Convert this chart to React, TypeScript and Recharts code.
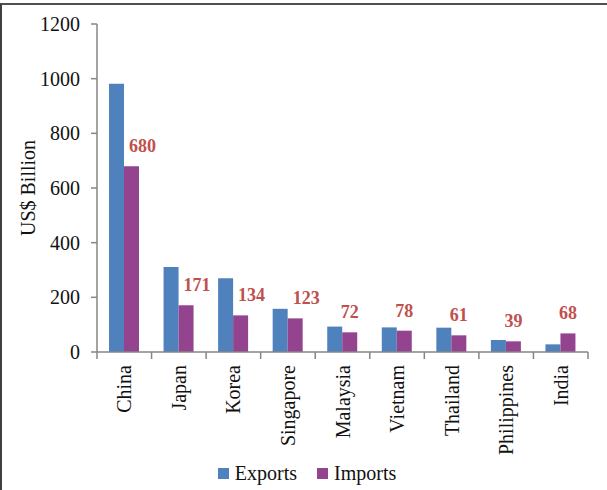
import React from 'react';
import { BarChart, Bar, XAxis, YAxis, Legend, LabelList } from 'recharts';

const categories = ['China', 'Japan', 'Korea', 'Singapore', 'Malaysia', 'Vietnam', 'Thailand', 'Philippines', 'India'];
const exportsValues = [981, 311, 270, 158, 93, 90, 89, 44, 28];
const importsValues = [680, 171, 134, 123, 72, 78, 61, 39, 68];
const yTicks = [0, 200, 400, 600, 800, 1000, 1200];

const data = categories.map((c, i) => ({ name: c, Exports: exportsValues[i], Imports: importsValues[i] }));

const W = 607;
const H = 490;
const MARGIN = { top: 24, right: 19, left: 0, bottom: 2 };
const Y_AXIS_W = 97;
const PLOT_W = W - MARGIN.left - MARGIN.right - Y_AXIS_W;
const STEP = PLOT_W / categories.length;
const FONT = '"Liberation Serif", "Times New Roman", serif';
const AXIS_GRAY = '#868686';

const XTick = (props: any) => {
  const { x, y, payload, index } = props;
  const left = x - STEP / 2;
  const right = x + STEP / 2;
  return (
    <g>
      <line x1={left} y1={y} x2={left} y2={y + 7} stroke={AXIS_GRAY} strokeWidth={1.5} />
      {index === categories.length - 1 && (
        <line x1={right} y1={y} x2={right} y2={y + 7} stroke={AXIS_GRAY} strokeWidth={1.5} />
      )}
      <text
        x={0}
        y={0}
        transform={`translate(${x},${y + 13}) rotate(-90)`}
        textAnchor="end"
        dominantBaseline="central"
        fontFamily={FONT}
        fontSize={20}
        fill="#111"
      >
        {payload.value}
      </text>
    </g>
  );
};

const ImportLabel = (props: any) => {
  const { x, y, width, value } = props;
  const dx = String(value).length > 2 ? 11 : 0;
  return (
    <text
      x={x + width / 2 + dx}
      y={y - 20}
      textAnchor="middle"
      dominantBaseline="central"
      fontFamily={FONT}
      fontSize={18}
      fontWeight="bold"
      fill="#C0504D"
    >
      {value}
    </text>
  );
};

const YLabel = (props: any) => {
  const { viewBox } = props;
  const cx = viewBox.x + 28;
  const cy = viewBox.y + viewBox.height / 2;
  return (
    <text
      x={0}
      y={0}
      transform={`translate(${cx},${cy}) rotate(-90)`}
      textAnchor="middle"
      dominantBaseline="central"
      fontFamily={FONT}
      fontSize={20}
      fill="#111"
    >
      US$ Billion
    </text>
  );
};

const LegendContent = (props: any) => {
  const { payload } = props;
  return (
    <div
      style={{
        display: 'flex',
        justifyContent: 'center',
        alignItems: 'center',
        gap: 20,
        height: 30,
        fontFamily: FONT,
        fontSize: 20,
        color: '#111',
      }}
    >
      {(payload || []).map((p: any) => (
        <span key={p.value} style={{ display: 'flex', alignItems: 'center', fontFamily: FONT }}>
          <span style={{ display: 'inline-block', width: 11, height: 11, background: p.color, marginRight: 6 }} />
          {p.value}
        </span>
      ))}
    </div>
  );
};

export default function App() {
  return (
    <div style={{ position: 'absolute', left: 0, top: 0, width: W, height: H, background: '#fff', overflow: 'hidden' }}>
      <BarChart width={W} height={H} data={data} margin={MARGIN} barCategoryGap="22%" barGap={0}>
        <XAxis
          dataKey="name"
          interval={0}
          height={106}
          tickLine={false}
          tickSize={0}
          tickMargin={0}
          axisLine={{ stroke: AXIS_GRAY, strokeWidth: 1.5 }}
          tick={<XTick />}
        />
        <YAxis
          width={Y_AXIS_W}
          domain={[0, 1200]}
          ticks={yTicks}
          interval={0}
          tickSize={6}
          tickMargin={11}
          axisLine={{ stroke: AXIS_GRAY, strokeWidth: 1.5 }}
          tickLine={{ stroke: AXIS_GRAY, strokeWidth: 1.5 }}
          tick={{ fontFamily: FONT, fontSize: 20, fill: '#111' }}
          label={<YLabel />}
        />
        <Legend
          verticalAlign="bottom"
          content={<LegendContent />}
          wrapperStyle={{ left: 7, width: 600, height: 30 }}
        />
        <Bar dataKey="Exports" fill="#4F81BD" isAnimationActive={false} />
        <Bar dataKey="Imports" fill="#94448E" isAnimationActive={false}>
          <LabelList dataKey="Imports" content={<ImportLabel />} />
        </Bar>
      </BarChart>
      <div
        style={{
          position: 'absolute',
          left: 0,
          top: 3,
          width: W,
          height: H - 3,
          borderTop: '2px solid #505050',
          borderLeft: '2px solid #404040',
          boxSizing: 'border-box',
          pointerEvents: 'none',
        }}
      />
    </div>
  );
}
